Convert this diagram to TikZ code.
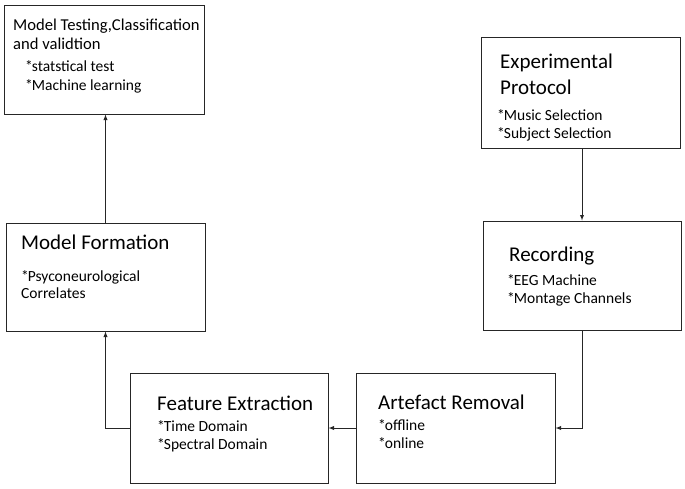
\documentclass[tikz,border=0pt]{standalone}
\usepackage{fontspec}
\setmainfont{Carlito}
\newcommand{\bul}{*\kern-1pt}
\begin{document}
\begin{tikzpicture}[x = 1pt, y = -1pt,
        box/.style={rectangle, draw=black!85, line width=1pt, minimum width=199pt, minimum height=110pt, inner sep=0pt},
        title/.style={anchor=base west, inner sep=0pt, font=\fontsize{21}{25}\selectfont},
        smalltitle/.style={anchor=base west, inner sep=0pt, font=\fontsize{16.6}{19}\selectfont},
        item/.style={anchor=base west, inner sep=0pt, font=\fontsize{15.5}{18}\selectfont},
        flow/.style={->, >=latex, line width=0.9pt, draw=black!85}
]
    \useasboundingbox (0,0) rectangle (685,488);
    \node[box, minimum width=200pt, minimum height=109pt] (test) at (104,59.5) {};
    \node[box, minimum height=111pt] (proto) at (580.5,92.5) {};
    \node[box, minimum width=198pt, minimum height=109pt] (rec) at (582,275.5) {};
    \node[box, minimum height=108pt] (form) at (105.5,277) {};
    \node[box, minimum width=198pt] (feat) at (229,428) {};
    \node[box] (arte) at (455.5,428) {};

    \node[smalltitle] (testA) at (13,30.5) {Model Testing,Classification};
    \node[smalltitle] (testB) at (13,49) {and validtion};
    \node[item] (testC) at (25,71) {\bul statstical test};
    \node[item] (testD) at (25,90.5) {\bul Machine learning};

    \node[title] (protoA) at (500,68) {Experimental};
    \node[title] (protoB) at (500,94) {Protocol};
    \node[item] (protoC) at (497,120) {\bul Music Selection};
    \node[item] (protoD) at (497,138) {\bul Subject Selection};

    \node[title] (recA) at (509,261) {Recording};
    \node[item] (recB) at (507,285) {\bul EEG Machine};
    \node[item] (recC) at (507,303) {\bul Montage Channels};

    \node[title] (formA) at (21,249) {Model Formation};
    \node[item] (formB) at (21,281) {\bul Psyconeurological};
    \node[item] (formC) at (21,298.5) {Correlates};

    \node[title] (featA) at (157,410) {Feature Extraction};
    \node[item] (featB) at (157,431) {\bul Time Domain};
    \node[item] (featC) at (157,449) {\bul Spectral Domain};

    \node[title] (arteA) at (378,409) {Artefact Removal};
    \node[item] (arteB) at (378,430) {\bul offline};
    \node[item] (arteC) at (378,448) {\bul online};

    \draw[flow] (rec.north |- proto.south) -- (rec.north);
    \draw[flow] (rec.south) |- (arte.east);
    \draw[flow] (arte.west) -- (feat.east);
    \draw[flow] (feat.west) -| (form.south);
    \draw[flow] (form.north) -- (form.north |- test.south);

\end{tikzpicture}
\end{document}
